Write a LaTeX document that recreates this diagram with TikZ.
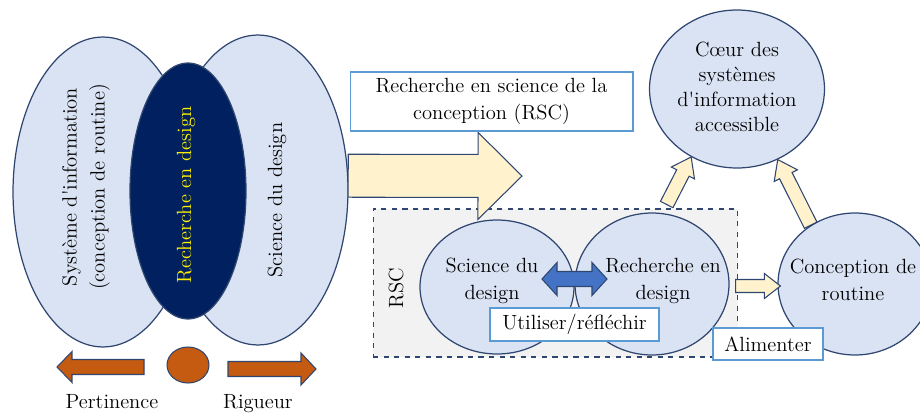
\documentclass[tikz,border=0pt]{standalone}
\usepackage{tikz}
\usetikzlibrary{shapes.geometric,calc}

\definecolor{navy}{HTML}{2F4670}
\definecolor{paleblue}{HTML}{DAE3F3}
\definecolor{deepnavy}{HTML}{002060}
\definecolor{rust}{HTML}{C55A11}
\definecolor{cream}{HTML}{FFF2CC}
\definecolor{midblue}{HTML}{4472C4}
\definecolor{skyline}{HTML}{5B9BD5}
\definecolor{shade}{HTML}{F2F2F2}

% block arrow: [style] tail, tip, shaft half width, head half width, head length
\newcommand{\blockarrow}[6][]{%
  \coordinate (bah) at ($(#3)!#6!(#2)$);
  \draw[#1] ($(#2)!#4!90:(#3)$) -- ($(bah)!#4!90:(#3)$) -- ($(bah)!#5!90:(#3)$) -- (#3)
    -- ($(bah)!#5!-90:(#3)$) -- ($(bah)!#4!-90:(#3)$) -- ($(#2)!#4!-90:(#3)$) -- cycle;}
% same with a head at both ends
\newcommand{\twinarrow}[6][]{%
  \coordinate (tha) at ($(#2)!#6!(#3)$);
  \coordinate (thb) at ($(#3)!#6!(#2)$);
  \draw[#1] (#2) -- ($(tha)!#5!90:(#3)$) -- ($(tha)!#4!90:(#3)$) -- ($(thb)!#4!90:(#3)$)
    -- ($(thb)!#5!90:(#3)$) -- (#3) -- ($(thb)!#5!-90:(#3)$) -- ($(thb)!#4!-90:(#3)$)
    -- ($(tha)!#4!-90:(#3)$) -- ($(tha)!#5!-90:(#3)$) -- cycle;}
\newcommand{\sq}{\textquotesingle}

\begin{document}
\begin{tikzpicture}[x=0.02cm, y=-0.02cm,
  bubble/.style={ellipse, draw=navy, fill=paleblue, line width=0.7pt, inner sep=0pt},
  txt/.style={font=\fontsize{11.7}{15.5}\selectfont, align=center, inner sep=0pt},
  tagbox/.style={txt, draw=skyline, fill=white, line width=0.6pt},
  creamarrow/.style={draw=navy, fill=cream, line width=0.6pt, line join=miter},
  rustarrow/.style={draw=navy, fill=rust, line width=0.6pt}]
\useasboundingbox (0,0) rectangle (920,416);

% left part: the three ellipses
\node [bubble, minimum width=3.6cm, minimum height=6.2cm] (sysinfo) at (103,192) {};
\node [bubble, minimum width=3.6cm, minimum height=6.2cm] (sdes) at (258,190) {};
\node [bubble, fill=deepnavy, minimum width=2.32cm, minimum height=5.12cm] (rdes) at (188,191) {};
\node [txt, rotate=90, font=\fontsize{11.7}{16}\selectfont] (sysinfo text) at (86,187) {Système d\sq information\\(conception de routine)};
\node [txt, rotate=90, text=yellow] (rdes text) at (186,195) {Recherche en design};
\node [txt, rotate=90] (sdes text) at (277,200) {Science du design};

% pertinence / rigueur
\node [ellipse, rustarrow, minimum width=0.84cm, minimum height=0.72cm, inner sep=0pt] (dot) at (188,365) {};
\coordinate (pert tail) at (144,367);
\coordinate (pert tip) at (57,367);
\coordinate (rig tail) at (228,369);
\coordinate (rig tip) at (316,369);
\blockarrow[rustarrow]{pert tail}{pert tip}{0.15cm}{0.31cm}{0.3cm}
\blockarrow[rustarrow]{rig tail}{rig tip}{0.15cm}{0.32cm}{0.3cm}
\node [txt, anchor=base] (pert) at (112,408) {Pertinence};
\node [txt, anchor=base] (rig) at (258,408) {Rigueur};

% RSC frame
\node [draw=navy, dashed, fill=shade, line width=0.6pt, minimum width=7.3cm, minimum height=2.96cm] (frame) at (555.5,283) {};
\node [txt, rotate=90] (frame text) at (396,288) {RSC};
\node [bubble, minimum width=3.08cm, minimum height=2.68cm] (sd) at (497,287) {};
\node [bubble, minimum width=3.08cm, minimum height=2.84cm] (rd) at (652,284) {};
\node [txt] (sd text) at (492,281) {Science du\\design};
\node [txt] (rd text) at (663,281) {Recherche en\\design};
\coordinate (use a) at (542,279);
\coordinate (use b) at (607,279);
\twinarrow[draw=navy, fill=midblue, line width=0.6pt]{use a}{use b}{0.15cm}{0.33cm}{0.3cm}
\node [tagbox, minimum width=3.38cm, minimum height=0.66cm] (use) at (574.5,324.5) {Utiliser/réfléchir};

% big arrow and its title
\coordinate (big tip) at (522,176);
\blockarrow[creamarrow]{sdes.9}{big tip}{0.43cm}{0.87cm}{0.88cm}
\node [tagbox, minimum width=5.66cm, minimum height=1.18cm] (rsc) at (491.5,101.5) {Recherche en science de la\\conception (RSC)};

% right part
\node [bubble, minimum width=3.5cm, minimum height=3.16cm] (core) at (737,89) {};
\node [txt, font=\fontsize{11.7}{14.3}\selectfont] (core text) at (737,87) {Cœur des\\systèmes\\d\sq information\\accessible};
\node [bubble, minimum width=3.08cm, minimum height=2.84cm] (co) at (855,284) {};
\node [txt] (co text) at (853,280) {Conception de\\routine};
\coordinate (up tail) at ($(rd.79)+(1,-9)$);
\coordinate (feed tail) at ($(rd.east)+(6,2)$);
\coordinate (feed tip) at ($(co.west)+(3,2)$);
\blockarrow[creamarrow]{up tail}{core.236}{0.14cm}{0.26cm}{0.36cm}
\blockarrow[creamarrow]{co.127}{core.300}{0.14cm}{0.26cm}{0.36cm}
\blockarrow[creamarrow]{feed tail}{feed tip}{0.13cm}{0.25cm}{0.32cm}
\node [tagbox, minimum width=2.2cm, minimum height=0.64cm] (feed) at (768,344) {Alimenter};
\end{tikzpicture}
\end{document}
